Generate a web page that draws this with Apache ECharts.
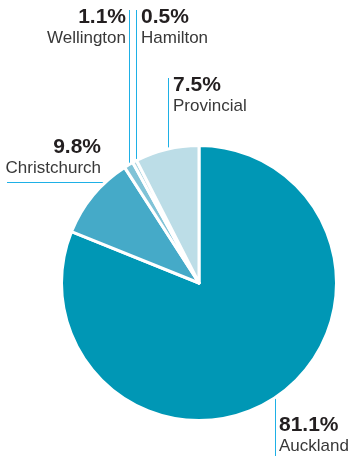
<!DOCTYPE html>
<html>
<head>
<meta charset="utf-8">
<script src="https://cdn.jsdelivr.net/npm/echarts@6/dist/echarts.min.js"></script>
<style>
html, body { margin: 0; padding: 0; background: #fff; }
#chart { width: 350px; height: 461px; }
</style>
</head>
<body>
<div id="chart"></div>
<script>
var regions = ['Auckland', 'Christchurch', 'Wellington', 'Hamilton', 'Provincial'];
var shares = [81.1, 9.8, 1.1, 0.5, 7.5];
var colours = ['#0097b5', '#45aac8', '#80c3d7', '#a6d3e0', '#bcdde7'];

// where each label sits and how its leader line runs (x, y, align, line points)
var labelSpots = [
	{ x: 279, y: 415, align: 'left', line: [[275.5, 382], [275.5, 420], [275.5, 456]] },
	{ x: 101, y: 137, align: 'right', line: [[117, 182.5], [60, 182.5], [7, 182.5]] },
	{ x: 126, y: 7, align: 'right', line: [[129.5, 166], [129.5, 90], [129.5, 10]] },
	{ x: 141, y: 7, align: 'left', line: [[136.5, 168], [136.5, 90], [136.5, 10]] },
	{ x: 173, y: 75, align: 'left', line: [[168.5, 156], [168.5, 110], [168.5, 78]] }
];

var pieData = [];
for (var i = 0; i < regions.length; i++) {
	pieData.push({ name: regions[i], value: shares[i], itemStyle: { color: colours[i] } });
}

var myChart = echarts.init(document.getElementById('chart'));
var option = {
	animation: false,
	series: [{
		type: 'pie',
		center: [199, 283],
		radius: [0, 137.5],
		startAngle: 90,
		clockwise: true,
		data: pieData,
		itemStyle: {
			borderColor: '#fff',
			borderWidth: 3
		},
		label: {
			show: true,
			position: 'outside',
			overflow: 'none',
			alignTo: 'none',
			formatter: function (p) {
				return '{p|' + p.value.toFixed(1) + '%}\n{n|' + p.name + '}';
			},
			rich: {
				p: {
					fontFamily: '"Liberation Sans", Arial, sans-serif',
					fontWeight: 'bold',
					fontSize: 21,
					color: '#231f20',
					lineHeight: 21
				},
				n: {
					fontFamily: '"Liberation Sans", Arial, sans-serif',
					fontSize: 17,
					color: '#383838',
					lineHeight: 20
				}
			}
		},
		labelLine: {
			show: true,
			lineStyle: { color: '#1eb0e6', width: 1 }
		},
		labelLayout: function (params) {
			var s = labelSpots[params.dataIndex];
			return {
				x: s.x,
				y: s.y,
				align: s.align,
				verticalAlign: 'top',
				labelLinePoints: s.line
			};
		}
	}]
};
myChart.setOption(option);
</script>
</body>
</html>
